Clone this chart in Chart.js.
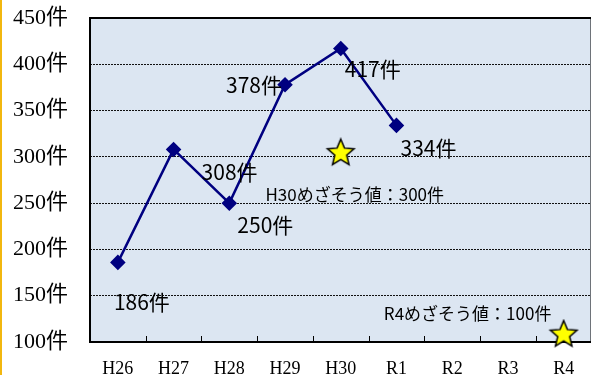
<!DOCTYPE html>
<html>
<head>
<meta charset="utf-8">
<script src="https://cdn.jsdelivr.net/npm/chart.js@4"></script>
<style>
  html, body { margin: 0; padding: 0; background: #fff; overflow: hidden; }
  #wrap { position: relative; width: 591px; height: 375px; overflow: hidden; }
  #edge { position: absolute; left: 0; top: 0; width: 2px; height: 375px; background: #f2b70f; z-index: 2; }
  canvas { position: absolute; left: 0; top: 0; }
</style>
</head>
<body>
<div id="wrap">
  <div id="edge"></div>
  <canvas id="chart" width="600" height="375"></canvas>
</div>
<script>
// data
const years = ["H26", "H27", "H28", "H29", "H30", "R1", "R2", "R3", "R4"];
const counts = [186, 308, 250, 378, 417, 334, null, null, null];
const targets = [null, null, null, null, 304, null, null, null, 108];
const countLabels = ["186件", "308件", "250件", "378件", "417件", "334件", null, null, null];
const targetLabels = [null, null, null, null, "H30めざそう値：300件", null, null, null, "R4めざそう値：100件"];
const yTicks = [100, 150, 200, 250, 300, 350, 400, 450];

// label offsets from their point (styling only)
const countOffsets = [[24, 40], [56, 23], [36, 22], [-31, 0], [32, 20], [32, 23]];
const targetOffsets = { 4: [14, 41], 8: [-96, -21] };

// filled yellow star used as point style
function makeStar(r) {
    const size = Math.ceil(r * 2 + 4);
    const c = document.createElement("canvas");
    c.width = size;
    c.height = size;
    const g = c.getContext("2d");
    const cx = size / 2, cy = size / 2;
    g.beginPath();
    for (let i = 0; i < 10; i++) {
        const rad = i % 2 ? r * 0.45 : r;
        const a = -Math.PI / 2 + i * Math.PI / 5;
        g.lineTo(cx + rad * Math.cos(a), cy + rad * Math.sin(a));
    }
    g.closePath();
    g.fillStyle = "#ffff00";
    g.fill();
    g.lineWidth = 1.5;
    g.strokeStyle = "#000";
    g.stroke();
    return c;
}

const plotDeco = {
    id: "plotDeco",
    beforeDraw(chart) {
        const a = chart.chartArea;
        const ctx = chart.ctx;
        ctx.save();
        ctx.fillStyle = "#dce6f2";
        ctx.fillRect(a.left, a.top, a.right - a.left, a.bottom - a.top);
        ctx.restore();
    },
    beforeDatasetsDraw(chart) {
        const a = chart.chartArea;
        const ctx = chart.ctx;
        const x = chart.scales.x;
        ctx.save();
        ctx.strokeStyle = "#000";
        ctx.lineWidth = 2;
        ctx.strokeRect(a.left, a.top, a.right - a.left, a.bottom - a.top);
        // small inward ticks between categories
        ctx.lineWidth = 1;
        for (let i = 1; i < years.length; i++) {
            const px = Math.round((x.getPixelForValue(i - 1) + x.getPixelForValue(i)) / 2) + 0.5;
            ctx.beginPath();
            ctx.moveTo(px, a.bottom);
            ctx.lineTo(px, a.bottom - 6);
            ctx.stroke();
        }
        ctx.restore();
    },
    afterDatasetsDraw(chart) {
        const ctx = chart.ctx;
        ctx.save();
        ctx.fillStyle = "#000";
        ctx.textAlign = "center";
        ctx.textBaseline = "middle";
        ctx.font = "21px 'Noto Sans CJK JP'";
        chart.getDatasetMeta(0).data.forEach((pt, i) => {
            if (!countLabels[i]) return;
            const o = countOffsets[i];
            ctx.fillText(countLabels[i], pt.x + o[0], pt.y + o[1]);
        });
        ctx.font = "17px 'Noto Sans CJK JP'";
        chart.getDatasetMeta(1).data.forEach((pt, i) => {
            if (!targetLabels[i]) return;
            const o = targetOffsets[i];
            ctx.fillText(targetLabels[i], pt.x + o[0], pt.y + o[1]);
        });
        ctx.restore();
    }
};

const ctx = document.getElementById("chart").getContext("2d");
new Chart(ctx, {
    type: "line",
    data: {
        labels: years,
        datasets: [{
            label: "件数",
            data: counts,
            borderColor: "#000080",
            backgroundColor: "#000080",
            borderWidth: 2.5,
            pointStyle: "rectRot",
            pointRadius: 6,
            pointBackgroundColor: "#000080",
            pointBorderColor: "#000080",
            fill: false,
            tension: 0
        }, {
            label: "めざそう値",
            data: targets,
            showLine: false,
            pointStyle: makeStar(14),
            clip: false
        }]
    },
    options: {
        responsive: false,
        animation: false,
        layout: { padding: { top: 18, right: 3, left: 0, bottom: 0 } },
        plugins: {
            legend: { display: false },
            tooltip: { enabled: false }
        },
        scales: {
            x: {
                offset: true,
                grid: { display: false, offset: true },
                border: { display: false },
                ticks: {
                    color: "#000",
                    padding: 8,
                    maxRotation: 0,
                    font: { family: "'Liberation Serif'", size: 18 }
                },
                afterFit(scale) {
                    scale.height = 33;
                    scale.paddingLeft = 0;
                    scale.paddingRight = 0;
                }
            },
            y: {
                min: 100,
                max: 450,
                afterBuildTicks(scale) { scale.ticks = yTicks.map(v => ({ value: v })); },
                grid: {
                    drawTicks: false,
                    color: c => (c.tick && (c.tick.value === 100 || c.tick.value === 450)) ? "rgba(0,0,0,0)" : "#111",
                    lineWidth: 1
                },
                border: { display: false, dash: [2, 1] },
                ticks: {
                    color: "#000",
                    padding: 22,
                    font: { family: "'Liberation Serif', 'Noto Sans CJK JP'", size: 22 },
                    callback: v => v + "件"
                },
                afterFit(scale) {
                    scale.width = 90;
                    scale.paddingTop = 0;
                    scale.paddingBottom = 0;
                }
            }
        }
    },
    plugins: [plotDeco]
});
</script>
</body>
</html>
